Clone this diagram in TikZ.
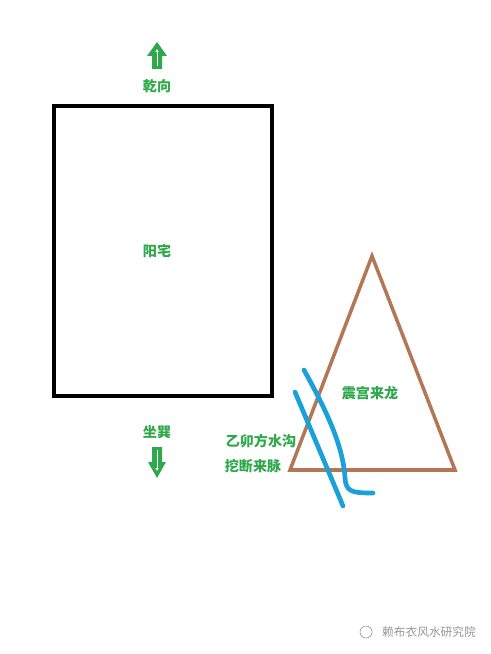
\documentclass[tikz,border=0pt]{standalone}
\usepackage{fontspec}
\newfontfamily\cjk{Noto Sans CJK SC}
\usetikzlibrary{arrows.meta}
\definecolor{labelgreen}{RGB}{46,168,74}
\definecolor{ridgebrown}{RGB}{178,120,86}
\definecolor{ditchblue}{RGB}{28,160,218}
\definecolor{markgray}{RGB}{150,150,150}

\begin{document}
\begin{tikzpicture}[
    x = 0.03cm, y = -0.03cm,
    label/.style = {text=labelgreen, font=\cjk\bfseries\fontsize{12}{14}\selectfont, inner sep=0pt},
    house/.style = {draw=black, line width=3.4pt},
    ridge/.style = {draw=ridgebrown, line width=3pt, line join=miter},
    ditch/.style = {draw=ditchblue, line width=4pt, line cap=round},
    dirarrow/.style = {fill=labelgreen, draw=none},
    innerline/.style = {draw=white, line width=0.8pt, -{Latex[length=2.5pt,width=3pt]}}
  ]
    \useasboundingbox (0,0) rectangle (490,654);

    % 阳宅
    \draw[house] (54,106) rectangle (272,396);
    \node[label] (house) at (157,251) {阳宅};

    % 朝向
    \fill[dirarrow] (157,42) -- (167,56) -- (162,56) -- (162,69) -- (152,69) -- (152,56) -- (147,56) -- cycle;
    \draw[innerline] (157,66) -- (157,49);
    \node[label] (facing) at (157,86) {乾向};

    \node[label] (sitting) at (157,432) {坐巽};
    \fill[dirarrow] (152,447) -- (162,447) -- (162,462) -- (166,462) -- (157,478) -- (148,462) -- (152,462) -- cycle;
    \draw[innerline] (157,450) -- (157,471);

    % 来龙
    \draw[ridge] (372,256) -- (455,470) -- (290,470) -- cycle;
    \node[label] (dragon) at (370,393) {震宫来龙};

    % 水沟
    \draw[ditch] (295,392) -- (343,506);
    \draw[ditch] (304,370) .. controls (326,410) and (343,445) .. (345,478)
        .. controls (346,492) and (352,493) .. (373,493);
    \node[label] (ditch) at (261,441) {乙卯方水沟};
    \node[label] (cut) at (253,466) {挖断来脉};

    % 水印
    \draw[markgray, line width=0.5pt] (366,632) circle (6);
    \node[text=markgray, font=\cjk\fontsize{10}{12}\selectfont, inner sep=0pt] (mark) at (429,632) {赖布衣风水研究院};
\end{tikzpicture}
\end{document}
